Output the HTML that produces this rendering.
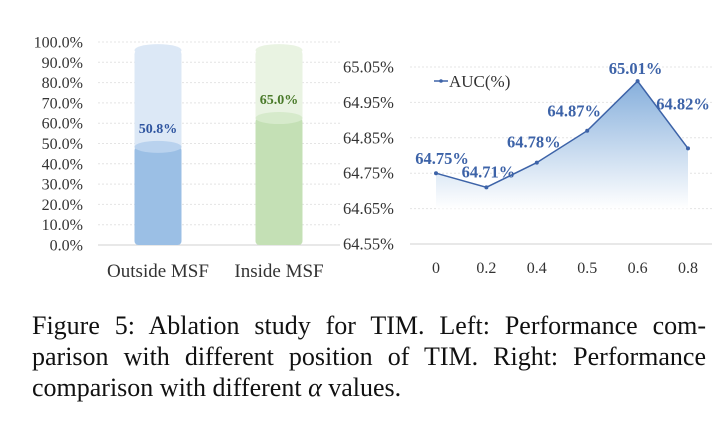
<!DOCTYPE html>
<html><head><meta charset="utf-8"><style>
body{margin:0;width:719px;height:427px;background:#fff;overflow:hidden;position:relative;font-family:"Liberation Serif",serif}
.cap{position:absolute;left:32px;width:674px;font-family:"Liberation Serif",serif;font-size:26px;text-align:justify;text-align-last:justify;white-space:nowrap;color:#111;line-height:30px}
</style></head><body>
<svg width="719" height="300" style="position:absolute;left:0;top:0" font-family="Liberation Serif, serif">
<defs>
<linearGradient id="ag" x1="0" y1="0" x2="0" y2="1">
<stop offset="0" stop-color="#86afdc"/><stop offset="1" stop-color="#ffffff"/></linearGradient>
</defs>
<g id="left"></g>
<g id="right"></g>
</svg>
<div class="cap" style="top:311px">Figure 5: Ablation study for TIM. Left: Performance com-</div>
<div class="cap" style="top:342px">parison with different position of TIM. Right: Performance</div>
<div class="cap" style="top:373px;text-align-last:left">comparison with different <i>α</i> values.</div>
<script>
const barCats=["Outside MSF","Inside MSF"];
const barVals=[50.8,65.0];
const barLeftTicks=[0,10,20,30,40,50,60,70,80,90,100];
const lineCats=["0","0.2","0.4","0.5","0.6","0.8"];
const lineVals=[64.75,64.71,64.78,64.87,65.01,64.82];
const lineTicks=[64.55,64.65,64.75,64.85,64.95,65.05];
const NS="http://www.w3.org/2000/svg";
function mk(p,t,a,txt){const e=document.createElementNS(NS,t);for(const k in a)e.setAttribute(k,a[k]);if(txt!==undefined)e.textContent=txt;p.appendChild(e);return e;}
// left
const L=document.getElementById('left');
const ly=v=>245-v*2.03;
barLeftTicks.forEach(t=>{
 const e=mk(L,'text',{x:83,y:ly(t)+5.5,'text-anchor':'end','font-size':16,fill:'#333'},t.toFixed(1)+'%');
 
 
 if(t>0){const g=mk(L,'line',{x1:98,x2:340,y1:ly(t),y2:ly(t),stroke:'#e4e4e4','stroke-dasharray':'2,2'});
 
 }
});
mk(L,'line',{x1:98,x2:340,y1:245,y2:245,stroke:'#d0d0d0'});
const bx=i=>158+i*121;
const cols=[["#dce8f6","#9bbfe5","#b9d2ee","#2f55a0"],["#e9f3e2","#c4e0b5","#d6eacb","#4a7a2a"]];
barCats.forEach((c,i)=>{
 const cx=bx(i),w=47,c0=cols[i];
 const bg=mk(L,'rect',{x:cx-w/2,y:ly(96),width:w,height:ly(0)-ly(96),fill:c0[0],rx:4});
 
 
 mk(L,'ellipse',{cx:cx,cy:ly(96),rx:w/2,ry:6,fill:c0[0]});
 const y=ly(barVals[i])+5;
 const b=mk(L,'rect',{x:cx-w/2,y:y,width:w,height:245-y,fill:c0[1],rx:4});
 
 
 mk(L,'ellipse',{cx:cx,cy:y,rx:w/2,ry:6,fill:c0[2]});
 const v=mk(L,'text',{x:cx,y:ly(barVals[i])-9,'text-anchor':'middle','font-size':14,'font-weight':'bold',fill:c0[3]},barVals[i].toFixed(1)+'%');
 
 
 const cl=mk(L,'text',{x:cx,y:277,'text-anchor':'middle','font-size':19,fill:'#333'},c);
 
 
});
// right
const R=document.getElementById('right');
const ry=v=>244-(v-64.55)*354;
const rx=i=>436+i*50.4;
lineTicks.forEach(t=>{
 const e=mk(R,'text',{x:343,y:ry(t)+5.5,'font-size':16.5,fill:'#333'},t.toFixed(2)+'%');
 
 
 if(t>64.56){const g=mk(R,'line',{x1:410,x2:712,y1:ry(t),y2:ry(t),stroke:'#e4e4e4','stroke-dasharray':'2,2'});
 
 }
});
mk(R,'line',{x1:410,x2:712,y1:244,y2:244,stroke:'#d0d0d0'});
let pts=lineVals.map((v,i)=>rx(i)+','+ry(v)).join(' ');
const area=mk(R,'polygon',{points:rx(0)+','+ry(64.65)+' '+pts+' '+rx(lineVals.length-1)+','+ry(64.65),fill:'url(#ag)'});


const ln=mk(R,'polyline',{points:pts,fill:'none',stroke:'#3d63a8','stroke-width':1.5});


const offs=[[6,-9],[2,-10],[-3,-15],[-13,-14],[-2,-7],[-5,-39]];
lineVals.forEach((v,i)=>{
 const p=mk(R,'circle',{cx:rx(i),cy:ry(v),r:2,fill:'#3d63a8'});
 
 
 const t=mk(R,'text',{x:rx(i)+offs[i][0],y:ry(v)+offs[i][1],'text-anchor':'middle','font-size':16.5,'font-weight':'bold',fill:'#3d63a8'},v.toFixed(2)+'%');
 
 
 const xl=mk(R,'text',{x:rx(i),y:273,'text-anchor':'middle','font-size':16,fill:'#333'},lineCats[i]);
 
 
});
const lg=mk(R,'g',{});


mk(lg,'line',{x1:434,x2:448,y1:81,y2:81,stroke:'#3d63a8','stroke-width':1.5});
mk(lg,'circle',{cx:441,cy:81,r:1.8,fill:'#3d63a8'});
mk(lg,'text',{x:449,y:87,'font-size':17,fill:'#333'},'AUC(%)');
</script>
</body></html>
